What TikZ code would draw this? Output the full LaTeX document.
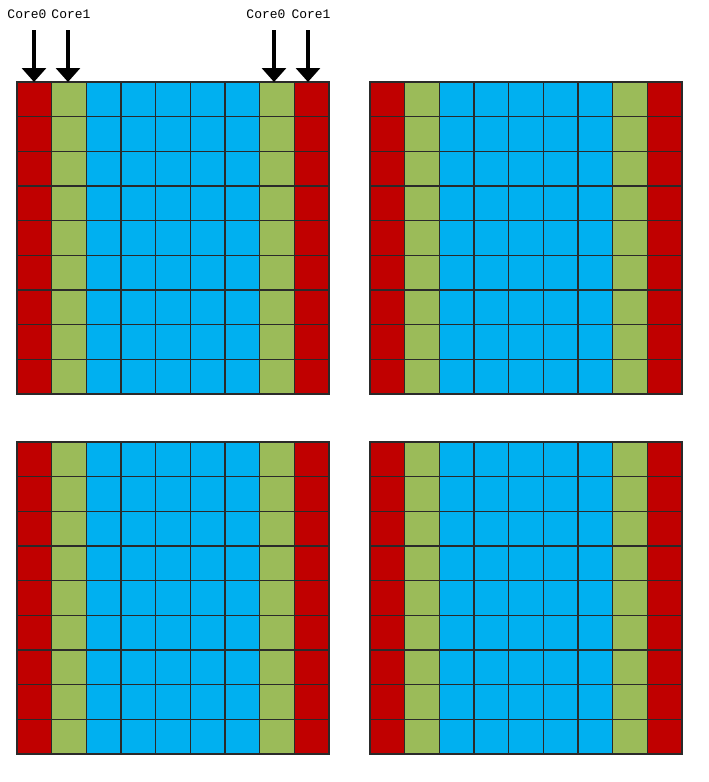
\documentclass[tikz,border=0pt]{standalone}
\usepackage{fontspec}
\setmonofont{Liberation Mono}
\usetikzlibrary{arrows.meta}
\definecolor{cred}{HTML}{C00000}
\definecolor{cgreen}{HTML}{9BBB59}
\definecolor{cblue}{HTML}{00B0F0}
\definecolor{cline}{HTML}{2A2A2A}
\tikzset{
  cell/.style={draw=cline, line width=1.2pt, minimum width=34.667pt, minimum height=34.667pt, inner sep=0pt, outer sep=0pt},
  corelabel/.style={font=\ttfamily\fontsize{13}{13}\selectfont, inner sep=0pt},
  corearrow/.style={line width=3.2pt, -{Triangle[width=24pt,length=14pt]}, shorten >=0pt}
}
\begin{document}
\begin{tikzpicture}[x=1pt,y=-1pt]
\useasboundingbox (0,0) rectangle (709,782);
\foreach \g/\ox/\oy in {1/17/82, 2/370/82, 3/17/442, 4/370/442}{
  \foreach \c in {1,...,9}{
    \ifnum\c=1 \def\col{cred}\else\ifnum\c=9 \def\col{cred}\else
    \ifnum\c=2 \def\col{cgreen}\else\ifnum\c=8 \def\col{cgreen}\else
    \def\col{cblue}\fi\fi\fi\fi
    \foreach \r in {1,...,9}{
      \node[cell, fill=\col] (g\g-\r-\c) at ({\ox+(\c-0.5)*34.667},{\oy+(\r-0.5)*34.667}) {};
    }
  }
}
\node[corelabel] (l1) at (27,14) {Core0};
\node[corelabel] (l2) at (71,14) {Core1};
\node[corelabel] (l3) at (266,14) {Core0};
\node[corelabel] (l4) at (311,14) {Core1};
\coordinate (s1) at (34,30);
\coordinate (s2) at (68,30);
\coordinate (s3) at (274,30);
\coordinate (s4) at (308,30);
\draw[corearrow] (s1) -- (s1 |- g1-1-1.north);
\draw[corearrow] (s2) -- (s2 |- g1-1-2.north);
\draw[corearrow] (s3) -- (s3 |- g1-1-8.north);
\draw[corearrow] (s4) -- (s4 |- g1-1-9.north);
\end{tikzpicture}
\end{document}
